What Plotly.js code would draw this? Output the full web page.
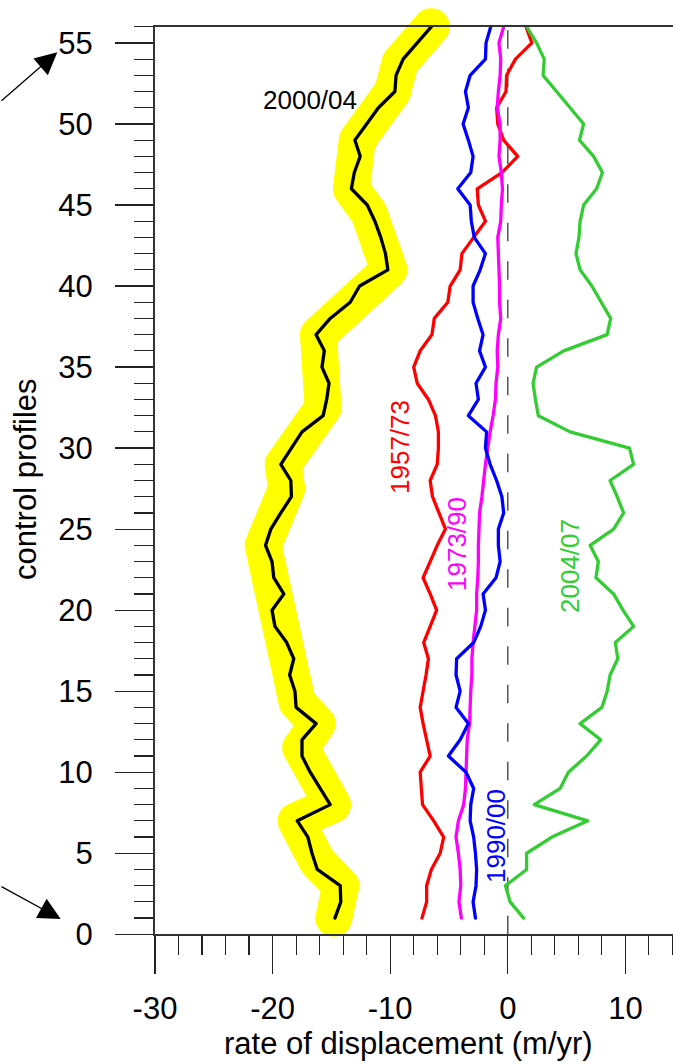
<!DOCTYPE html>
<html><head><meta charset="utf-8">
<script src="https://cdn.plot.ly/plotly-3.0.1.min.js"></script>
<style>
html,body{margin:0;padding:0;background:#fff;}
#chart{width:673px;height:1064px;}
.js-plotly-plot path.js-line{stroke-linejoin:round !important;stroke-linecap:round !important;}
</style></head><body><div id="chart"></div>
<script>
// ---- data ----
const profiles = [1,2,3,4,5,6,7,8,9,10,11,12,13,14,15,16,17,18,19,20,21,22,23,24,25,26,27,28,
  29,30,31,32,33,34,35,36,37,38,39,40,41,42,43,44,45,46,47,48,49,50,51,52,53,54,55,56];

const rate2000_04 = [-14.7,-14.2,-14.25,-16.2,-16.65,-17.0,-17.9,-15.1,-15.95,-16.8,-17.5,-17.5,-16.3,-18.0,
  -18.1,-18.55,-18.2,-18.8,-19.8,-20.05,-19.05,-19.9,-20.05,-20.6,-20.15,-19.3,-18.4,-18.45,-19.3,-18.4,
  -17.5,-15.7,-15.4,-15.2,-15.8,-15.6,-16.3,-15.1,-13.4,-12.6,-10.2,-10.4,-10.8,-11.3,-11.95,-13.3,
  -13.05,-12.55,-13.0,-12.0,-11.0,-9.6,-9.5,-8.9,-7.7,-6.5];

const rate1957_73 = [-7.3,-6.9,-6.9,-6.5,-5.75,-5.45,-6.3,-7.25,-7.35,-7.45,-6.6,-6.9,-7.2,-7.45,
  -7.2,-6.95,-6.75,-7.15,-6.6,-6.05,-6.6,-7.2,-6.6,-6.0,-5.3,-5.85,-6.4,-6.6,-6.0,-5.9,
  -5.9,-6.15,-6.75,-7.7,-8.0,-7.45,-6.45,-6.25,-5.1,-4.9,-4.05,-3.9,-2.9,-1.9,-2.5,-2.6,
  -0.5,0.85,-0.35,-0.85,-0.95,-0.15,-0.1,0.65,2.05,1.55];

const rate1973_90 = [-3.95,-4.15,-4.0,-4.05,-4.2,-4.4,-4.2,-3.75,-3.6,-3.55,-3.5,-3.45,-3.25,-3.2,
  -3.15,-3.05,-3.05,-2.95,-2.8,-2.65,-2.65,-2.55,-2.5,-2.5,-2.45,-2.4,-2.2,-2.05,-1.9,-1.7,
  -1.5,-1.25,-1.05,-1.0,-0.85,-0.9,-0.8,-0.6,-0.7,-0.7,-0.75,-0.8,-0.85,-0.6,-0.55,-0.45,
  -0.55,-0.75,-0.65,-0.65,-0.9,-0.8,-0.65,-0.6,-0.75,-0.35];

const rate1990_00 = [-2.75,-2.95,-2.7,-2.65,-2.75,-2.9,-3.2,-3.15,-2.9,-3.55,-5.05,-4.05,-3.35,-4.4,
  -4.05,-4.4,-4.35,-2.9,-2.3,-1.9,-2.1,-1.0,-0.65,-0.8,-0.8,-0.35,-0.5,-0.95,-1.5,-1.9,
  -1.8,-3.35,-2.5,-2.7,-1.9,-2.4,-2.1,-2.55,-2.95,-2.95,-2.35,-1.9,-2.85,-3.1,-3.2,-4.25,
  -3.15,-2.95,-3.35,-3.8,-3.35,-3.6,-3.2,-1.9,-1.85,-1.45];

const rate2004_07 = [1.35,0.2,-0.2,1.6,1.6,3.75,6.8,2.25,4.45,5.15,6.7,7.9,6.15,8.0,
  8.45,8.7,9.35,9.15,10.7,9.8,9.0,7.5,7.7,7.0,9.0,9.85,9.3,8.7,10.7,10.35,
  5.3,2.6,2.35,2.15,2.45,4.75,8.45,8.75,7.95,7.15,6.15,5.8,6.05,6.15,6.45,7.55,
  8.05,7.3,6.1,6.45,5.3,4.15,3.0,3.1,2.45,1.6];

// generalized (smoothed) 2000/04 envelope drawn as the yellow band
const bandProfile = [56,53.8,52,49,46,44.5,41,37,32.5,29,27.5,24,14.3,13,11.5,8,7,4.5,3,1];
const bandRate    = [-6.5,-9.15,-9.8,-12.8,-13.3,-11.8,-10.1,-16.1,-15.7,-19.1,-18.8,-20.8,-17.9,-16.2,-17.6,-14.9,-18.0,-16.2,-14.2,-14.8];

const xTickVals = [-30,-20,-10,0,10];
const xTickText = ['-30','-20','-10','0','10'];
const seriesNames = ['2000/04','1957/73','1973/90','1990/00','2004/07'];
const xTitle = 'rate of displacement (m/yr)';
const yTitle = 'control profiles';

// ---- geometry / style ----
const W = 673, H = 1064;
const PL = 155, PR = 673, PT = 26.7, PB = 934.3;
const xRange = [-30, 14.05];
const yRange = [0, 56];
const ppu = (PB - PT) / (yRange[1] - yRange[0]);
const yFull = [yRange[0] - (H - PB) / ppu, yRange[1] + PT / ppu];
const FONT = 'Liberation Sans, Arial, Helvetica, sans-serif';
const px = v => v / W;
const py = v => 1 - v / H;

const COL = {black:'#000000', red:'#ff0000', magenta:'#ff00ff', blue:'#0000ff', green:'#33cc33', yellow:'#ffff00'};
const LW = 3.3;

function line(xv, color, width) {
  return {x: xv, y: profiles, type: 'scatter', mode: 'lines', xaxis: 'x2', yaxis: 'y2',
    line: {color: color, width: width, simplify: false}, hoverinfo: 'skip', showlegend: false};
}

const traces = [
  {x: bandRate, y: bandProfile, type: 'scatter', mode: 'lines', xaxis: 'x', yaxis: 'y',
   line: {color: COL.yellow, width: 37, simplify: false}, hoverinfo: 'skip', showlegend: false},
  line(rate2000_04, COL.black, LW),
  line(rate1957_73, COL.red, LW),
  line(rate1973_90, COL.magenta, LW),
  line(rate1990_00, COL.blue, LW),
  line(rate2004_07, COL.green, LW)
];

const tickCommon = {ticks: 'outside', ticklen: 38, tickwidth: 1.2, tickcolor: '#222',
  showgrid: false, zeroline: false, showline: true, linecolor: '#333',
  tickfont: {family: FONT, size: 31, color: '#000'}, fixedrange: true};

function lbl(text, x, y, color, angle, size) {
  return {text: text, xref: 'paper', yref: 'paper', x: px(x), y: py(y), xanchor: 'center', yanchor: 'middle',
    showarrow: false, textangle: angle, font: {family: FONT, size: size, color: color}};
}
function arrow(tipX, tipY, tailX, tailY) {
  return {text: '', xref: 'paper', yref: 'paper', x: px(tipX), y: py(tipY), ax: tailX - tipX, ay: tailY - tipY,
    showarrow: true, arrowhead: 2, arrowsize: 3.4, arrowwidth: 1.3, arrowcolor: '#000', standoff: 0};
}

const layout = {
  width: W, height: H, margin: {l: 0, r: 0, t: 0, b: 0},
  paper_bgcolor: '#ffffff', plot_bgcolor: 'rgba(0,0,0,0)', showlegend: false,
  font: {family: FONT, color: '#000'},
  xaxis: {domain: [PL / W, PR / W], range: xRange, visible: false, fixedrange: true},
  yaxis: {domain: [0, 1], range: yFull, visible: false, fixedrange: true},
  xaxis2: Object.assign({}, tickCommon, {domain: [PL / W, PR / W], range: xRange, anchor: 'y2',
    mirror: true, linewidth: 1.6, tickmode: 'array', tickvals: xTickVals, ticktext: xTickText,
    ticklabelstandoff: 8,
    minor: {tickmode: 'linear', tick0: 0, dtick: 2, ticks: 'outside', ticklen: 19, tickwidth: 1.2, tickcolor: '#222'}}),
  yaxis2: Object.assign({}, tickCommon, {domain: [1 - PB / H, 1 - PT / H], range: yRange, anchor: 'x2',
    linewidth: 2, tickmode: 'linear', tick0: 0, dtick: 5, ticklabelstandoff: 16,
    minor: {tickmode: 'linear', tick0: 0, dtick: 1, ticks: 'outside', ticklen: 19, tickwidth: 1.2, tickcolor: '#222'}}),
  shapes: [{type: 'line', xref: 'x2', yref: 'y2', x0: 0, x1: 0, y0: yRange[0], y1: yRange[1],
    line: {color: '#555', width: 1.5, dash: '18.5px,20px'}, layer: 'below'}],
  annotations: [
    lbl(seriesNames[0], 310, 100, COL.black, 0, 26),
    lbl(seriesNames[1], 400, 447, COL.red, -90, 26),
    lbl(seriesNames[2], 457, 544, COL.magenta, -90, 26),
    lbl(seriesNames[3], 496, 836, COL.blue, -90, 26),
    lbl(seriesNames[4], 570, 566, COL.green, -90, 26),
    lbl(xTitle, 409, 1043, '#000', 0, 31),
    lbl(yTitle, 25, 479, '#000', -90, 31),
    arrow(57.3, 52.3, -5, 102),
    arrow(60.7, 919, -5, 885.8)
  ]
};

Plotly.newPlot('chart', traces, layout, {staticPlot: true, displayModeBar: false});
</script></body></html>
